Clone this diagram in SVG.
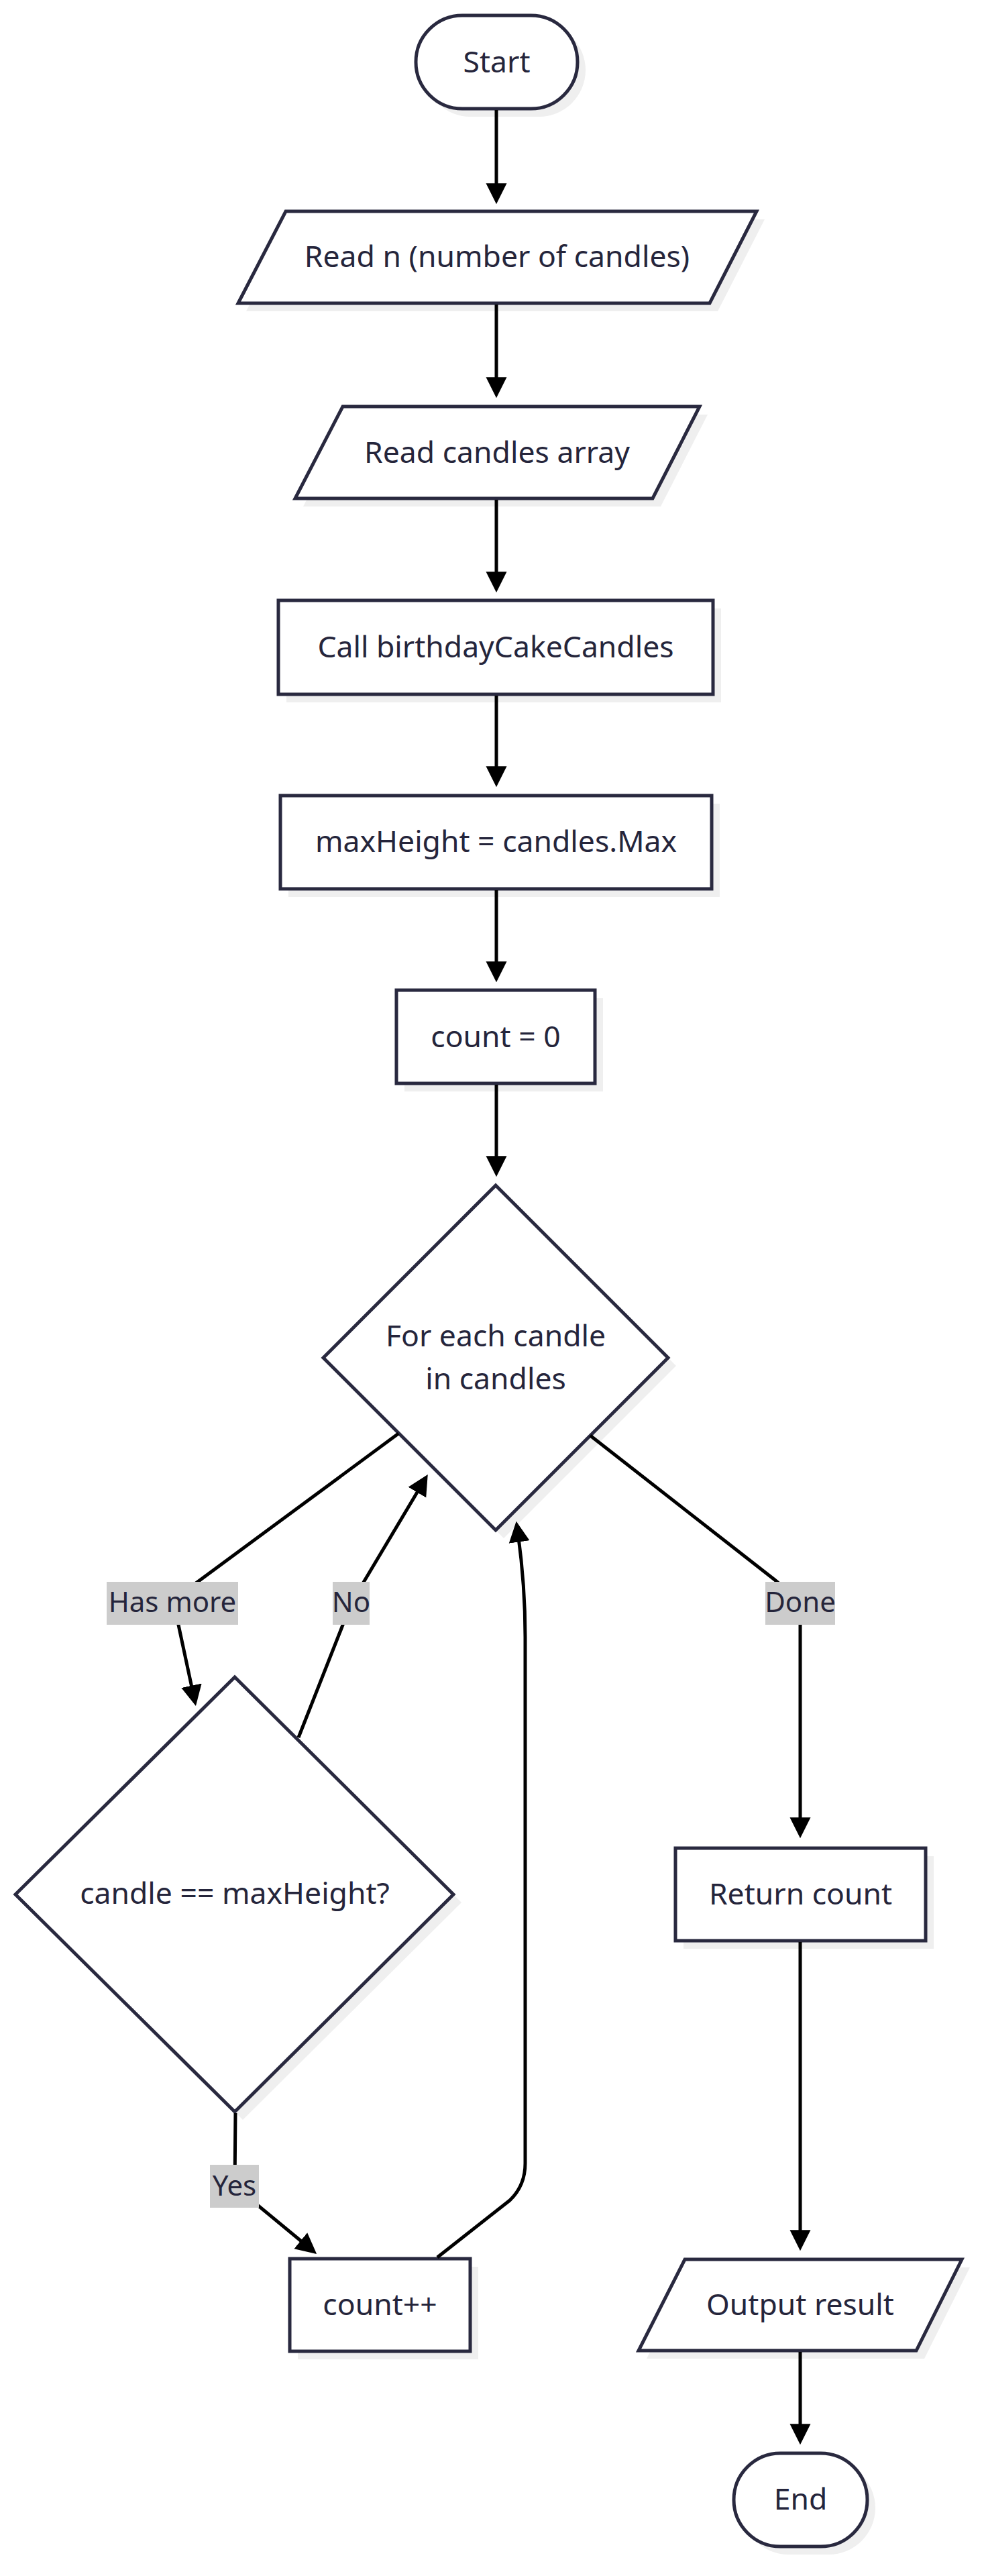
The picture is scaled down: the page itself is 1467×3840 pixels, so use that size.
<svg xmlns="http://www.w3.org/2000/svg" width="1467" height="3840" viewBox="0 0 1467 3840">
<defs>
<marker id="arr" viewBox="0 0 10 10" refX="7" refY="5" markerUnits="userSpaceOnUse" markerWidth="31" markerHeight="39" orient="auto">
<path d="M0,0 L10,5 L0,10 z" fill="#000"/>
</marker>
<style>
.nd{fill:#fff;stroke:#29293f;stroke-width:5}
.sh{fill:#efefef;stroke:none}
.tx{font-family:"Noto Sans","Open Sans","DejaVu Sans",sans-serif;font-size:44.5px;fill:#25253b;text-anchor:middle}
.lt{font-family:"Noto Sans","Open Sans","DejaVu Sans",sans-serif;font-size:42px;fill:#25253b;text-anchor:middle}
.lb{fill:#cccccc}
.ed{fill:none;stroke:#000;stroke-width:5;marker-end:url(#arr)}
</style>
</defs>
<rect width="1467" height="3840" fill="#fff"/>
<g id="start">
<rect class="sh" x="632" y="35" width="241" height="139" rx="69.5"/>
<rect class="nd" x="620" y="23" width="241" height="139" rx="69.5"/>
<text class="tx" x="740.5" y="108">Start</text>
</g>
<g id="read-n">
<polygon class="sh" points="438,327 1140,327 1070,464 367,464"/>
<polygon class="nd" points="426,315 1128,315 1058,452 355,452"/>
<text class="tx" x="741" y="398">Read n (number of candles)</text>
</g>
<g id="read-arr">
<polygon class="sh" points="523,618 1055,618 985,755 452,755"/>
<polygon class="nd" points="511,606 1043,606 973,743 440,743"/>
<text class="tx" x="741" y="690">Read candles array</text>
</g>
<g id="call">
<rect class="sh" x="427" y="907" width="648" height="140"/>
<rect class="nd" x="415" y="895" width="648" height="140"/>
<text class="tx" x="739" y="980">Call birthdayCakeCandles</text>
</g>
<g id="maxh">
<rect class="sh" x="430" y="1198" width="643" height="139"/>
<rect class="nd" x="418" y="1186" width="643" height="139"/>
<text class="tx" x="739.5" y="1270">maxHeight = candles.Max</text>
</g>
<g id="count0">
<rect class="sh" x="603" y="1488" width="296" height="139"/>
<rect class="nd" x="591" y="1476" width="296" height="139"/>
<text class="tx" x="739" y="1561">count = 0</text>
</g>
<g id="foreach">
<polygon class="sh" points="751,1779 1008,2036 751,2293 494,2036"/>
<polygon class="nd" points="739,1767 996,2024 739,2281 482,2024"/>
<text class="tx" x="739" y="2007">For each candle</text>
<text class="tx" x="739" y="2071">in candles</text>
</g>
<g id="check">
<polygon class="sh" points="362,2512 688,2836 362,3160 35,2836"/>
<polygon class="nd" points="350,2500 676,2824 350,3148 23,2824"/>
<text class="tx" x="350" y="2838">candle == maxHeight?</text>
</g>
<g id="ret">
<rect class="sh" x="1019" y="2767" width="373" height="138"/>
<rect class="nd" x="1007" y="2755" width="373" height="138"/>
<text class="tx" x="1193.5" y="2839">Return count</text>
</g>
<g id="inc">
<rect class="sh" x="444" y="3379" width="269" height="138"/>
<rect class="nd" x="432" y="3367" width="269" height="138"/>
<text class="tx" x="566.5" y="3451">count++</text>
</g>
<g id="output">
<polygon class="sh" points="1033,3380 1446,3380 1378,3516 964,3516"/>
<polygon class="nd" points="1021,3368 1434,3368 1366,3504 952,3504"/>
<text class="tx" x="1193" y="3451">Output result</text>
</g>
<g id="end">
<rect class="sh" x="1106" y="3669" width="199" height="139" rx="69.5"/>
<rect class="nd" x="1094" y="3657" width="199" height="139" rx="69.5"/>
<text class="tx" x="1193.5" y="3741">End</text>
</g>
<g id="edges">
<path class="ed" d="M740,164 V295"/>
<path class="ed" d="M740,454 V584"/>
<path class="ed" d="M740,745 V874"/>
<path class="ed" d="M740,1037 V1164"/>
<path class="ed" d="M740,1327 V1455"/>
<path class="ed" d="M740,1617 V1745"/>
<path class="ed" d="M594,2137 L292,2360 Q262,2385 266,2422 L290,2534"/>
<path class="ed" d="M445,2590 L510,2425 Q522,2392 540,2362 L633,2206"/>
<path class="ed" d="M880,2140 L1155,2355 Q1193,2385 1193,2420 V2731"/>
<path class="ed" d="M351,3150 L350,3259 L465,3354"/>
<path class="ed" d="M652,3365 L760,3280 Q783,3258 783,3225 L783,2440 Q783,2360 771,2277"/>
<path class="ed" d="M1193,2895 V3346"/>
<path class="ed" d="M1193,3506 V3635"/>
</g>
<g id="edge-labels">
<g id="lbl-hasmore"><rect class="lb" x="159" y="2358" width="196" height="64"/><text class="lt" x="257" y="2403">Has more</text></g>
<g id="lbl-no"><rect class="lb" x="496" y="2358" width="55" height="64"/><text class="lt" x="523.5" y="2403">No</text></g>
<g id="lbl-done"><rect class="lb" x="1141" y="2358" width="104" height="64"/><text class="lt" x="1193" y="2403">Done</text></g>
<g id="lbl-yes"><rect class="lb" x="313" y="3227" width="73" height="64"/><text class="lt" x="349.5" y="3273">Yes</text></g>
</g>
</svg>
